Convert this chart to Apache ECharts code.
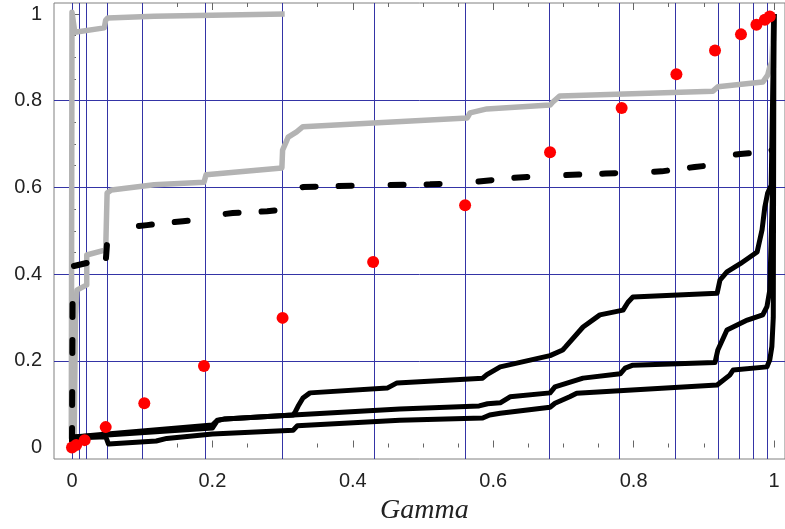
<!DOCTYPE html>
<html><head><meta charset="utf-8">
<script src="https://cdn.jsdelivr.net/npm/echarts@6/dist/echarts.min.js"></script>
<style>html,body{margin:0;padding:0;background:#fff;overflow:hidden}#c{width:785px;height:529px}</style>
</head><body><div id="c"></div>
<script>
// Red points (Gamma, value)
const dotX = [0, 0.006, 0.018, 0.048, 0.103, 0.188, 0.300, 0.429, 0.560, 0.681, 0.783, 0.861, 0.916, 0.953, 0.975, 0.987, 0.994];
const dotY = [0, 0.006, 0.017, 0.047, 0.102, 0.188, 0.299, 0.428, 0.559, 0.681, 0.783, 0.861, 0.916, 0.953, 0.975, 0.987, 0.994];
// horizontal grid lines
const hGrid = [0.2, 0.4, 0.6, 0.8];
// tick labels
const xTicks = [0, 0.2, 0.4, 0.6, 0.8, 1];
const yTicks = [0, 0.2, 0.4, 0.6, 0.8, 1];
const xTitle = 'Gamma';

// Gray curves
const grayTop = [[-0.001,0.02],[0,1.004],[0.004,0.958],[0.046,0.968],[0.048,0.986],[0.051,0.991],[0.117,0.995],[0.303,1.0]];
const grayMid = [[0.003,0.02],[0.005,0.30],[0.007,0.363],[0.021,0.375],[0.021,0.444],[0.048,0.456],[0.05,0.587],[0.056,0.594],[0.117,0.606],[0.188,0.612],[0.191,0.629],[0.299,0.645],[0.300,0.686],[0.308,0.716],[0.32,0.728],[0.329,0.740],[0.563,0.760],[0.567,0.772],[0.591,0.781],[0.681,0.790],[0.685,0.797],[0.695,0.811],[0.913,0.822],[0.920,0.832],[0.984,0.843],[0.991,0.859],[0.994,0.878],[0.997,0.889],[1.0,1.0]];

// Black dashed curve
const blackDashed = [[0,0.015],[0.001,0.418],[0.022,0.426],[0.048,0.428],[0.05,0.472],[0.084,0.509],[0.107,0.513],[0.158,0.522],[0.19,0.527],[0.2,0.535],[0.229,0.541],[0.278,0.545],[0.298,0.548],[0.305,0.570],[0.311,0.583],[0.329,0.601],[0.43,0.605],[0.51,0.607],[0.563,0.611],[0.63,0.622],[0.68,0.627],[0.76,0.632],[0.84,0.637],[0.887,0.647],[0.915,0.652],[0.92,0.672],[0.952,0.677],[0.99,0.683],[0.998,0.686]];

// Black solid curves
const blackUpper = [[0,0.012],[0.003,0.024],[0.05,0.031],[0.2,0.052],[0.207,0.063],[0.218,0.066],[0.315,0.075],[0.318,0.082],[0.322,0.095],[0.329,0.114],[0.339,0.126],[0.449,0.137],[0.463,0.149],[0.585,0.160],[0.591,0.168],[0.61,0.186],[0.681,0.212],[0.699,0.225],[0.703,0.232],[0.728,0.278],[0.752,0.306],[0.785,0.317],[0.792,0.335],[0.799,0.347],[0.919,0.356],[0.923,0.386],[0.933,0.405],[0.952,0.424],[0.976,0.451],[0.983,0.502],[0.987,0.555],[0.991,0.587],[0.996,0.605],[0.998,0.8],[1,1]];
const blackMiddle = [[0,0.012],[0.003,0.024],[0.05,0.029],[0.2,0.045],[0.207,0.062],[0.218,0.066],[0.315,0.075],[0.467,0.089],[0.58,0.096],[0.592,0.101],[0.61,0.103],[0.624,0.117],[0.681,0.126],[0.688,0.140],[0.728,0.160],[0.781,0.170],[0.788,0.183],[0.799,0.190],[0.916,0.196],[0.920,0.225],[0.933,0.271],[0.962,0.294],[0.984,0.306],[0.990,0.325],[0.994,0.363],[0.998,0.6],[1,1]];
const blackLower = [[0,0.012],[0.003,0.022],[0.048,0.025],[0.052,0.008],[0.12,0.015],[0.135,0.021],[0.2,0.031],[0.315,0.040],[0.321,0.050],[0.467,0.063],[0.585,0.068],[0.595,0.075],[0.61,0.079],[0.681,0.093],[0.688,0.102],[0.709,0.117],[0.719,0.125],[0.919,0.144],[0.937,0.167],[0.942,0.179],[0.990,0.186],[0.994,0.202],[0.997,0.233],[0.999,0.3],[1,1]];

const chart = echarts.init(document.getElementById('c'), null, {renderer:'canvas'});
const gridColor = '#3434a6';
const tickColor = '#666';
const lblStyle = {fontFamily:'Liberation Sans, Arial, sans-serif', fontSize:20, color:'#222', margin:12};

const option = {
  animation:false,
  backgroundColor:'#fff',
  grid:[
    {left:54, right:0, top:3, bottom:70, show:true, borderColor:'#808080', borderWidth:1, backgroundColor:'transparent', outerBoundsMode:'none', containLabel:false},
    {left:72, right:11, top:14, bottom:81.5, show:false, outerBoundsMode:'none', containLabel:false}
  ],
  graphic:[
    {type:'text', left:380, top:497, silent:true,
     style:{text:xTitle, fontFamily:'Liberation Serif, Times New Roman, serif', fontStyle:'italic', fontSize:28, fill:'#222'}}
  ],
  xAxis:[
    {gridIndex:0, type:'value', min:-0.02564, max:1.0157, show:false},
    {gridIndex:1, type:'value', min:0, max:1, interval:0.2, position:'bottom', offset:11.5,
     axisLine:{show:false}, splitLine:{show:false},
     axisTick:{show:true, inside:true, length:7, lineStyle:{color:tickColor}},
     minorTick:{show:true, splitNumber:4, length:4, lineStyle:{color:tickColor}},
     axisLabel:Object.assign({}, lblStyle, {formatter:v => xTicks.includes(+v.toFixed(2)) ? String(+v.toFixed(2)) : ''})},
    {gridIndex:1, type:'value', min:0, max:1, interval:0.2, position:'top', offset:11,
     axisLine:{show:false}, splitLine:{show:false}, axisLabel:{show:false},
     axisTick:{show:true, inside:true, length:7, lineStyle:{color:tickColor}},
     minorTick:{show:true, splitNumber:4, length:4, lineStyle:{color:tickColor}}}
  ],
  yAxis:[
    {gridIndex:0, type:'value', min:-0.02653, max:1.02537, show:false},
    {gridIndex:1, type:'value', min:0, max:1, interval:0.2, position:'left', offset:18,
     axisLine:{show:false}, splitLine:{show:false},
     axisTick:{show:true, inside:true, length:7, lineStyle:{color:tickColor}},
     minorTick:{show:true, splitNumber:4, length:4, lineStyle:{color:tickColor}},
     axisLabel:Object.assign({}, lblStyle, {formatter:v => yTicks.includes(+v.toFixed(2)) ? String(+v.toFixed(2)) : ''})}
  ],
  series:[
    {type:'line', xAxisIndex:1, yAxisIndex:1, data:[], silent:true},
    {type:'line', xAxisIndex:0, yAxisIndex:0, data:[], silent:true, z:1,
     markLine:{silent:true, z:1, symbol:'none', label:{show:false},
       lineStyle:{color:gridColor, width:1, type:'solid'},
       emphasis:{disabled:true},
       data: dotX.map(v => ({xAxis:v})).concat(hGrid.map(v => ({yAxis:v})))}},
    {type:'line', xAxisIndex:0, yAxisIndex:0, data:grayTop, showSymbol:false, z:3,
     lineStyle:{color:'#b3b3b3', width:5.5, join:'round', cap:'butt'}},
    {type:'line', xAxisIndex:0, yAxisIndex:0, data:grayMid, showSymbol:false, z:3,
     lineStyle:{color:'#b3b3b3', width:5.5, join:'round', cap:'butt'}},
    {type:'line', xAxisIndex:0, yAxisIndex:0, data:blackDashed, showSymbol:false, z:4,
     lineStyle:{color:'#000', width:6, type:[13,23,13,39], cap:'round', join:'round'}},
    {type:'line', xAxisIndex:0, yAxisIndex:0, data:blackUpper, showSymbol:false, z:5,
     lineStyle:{color:'#000', width:5, join:'round'}},
    {type:'line', xAxisIndex:0, yAxisIndex:0, data:blackMiddle, showSymbol:false, z:5,
     lineStyle:{color:'#000', width:5, join:'round'}},
    {type:'line', xAxisIndex:0, yAxisIndex:0, data:blackLower, showSymbol:false, z:5,
     lineStyle:{color:'#000', width:5, join:'round'}},
    {type:'scatter', xAxisIndex:0, yAxisIndex:0, data:dotX.map((x,i)=>[x,dotY[i]]), z:6,
     symbol:'circle', symbolSize:12, itemStyle:{color:'#ff0000', opacity:1}}
  ]
};
chart.setOption(option);
</script></body></html>
